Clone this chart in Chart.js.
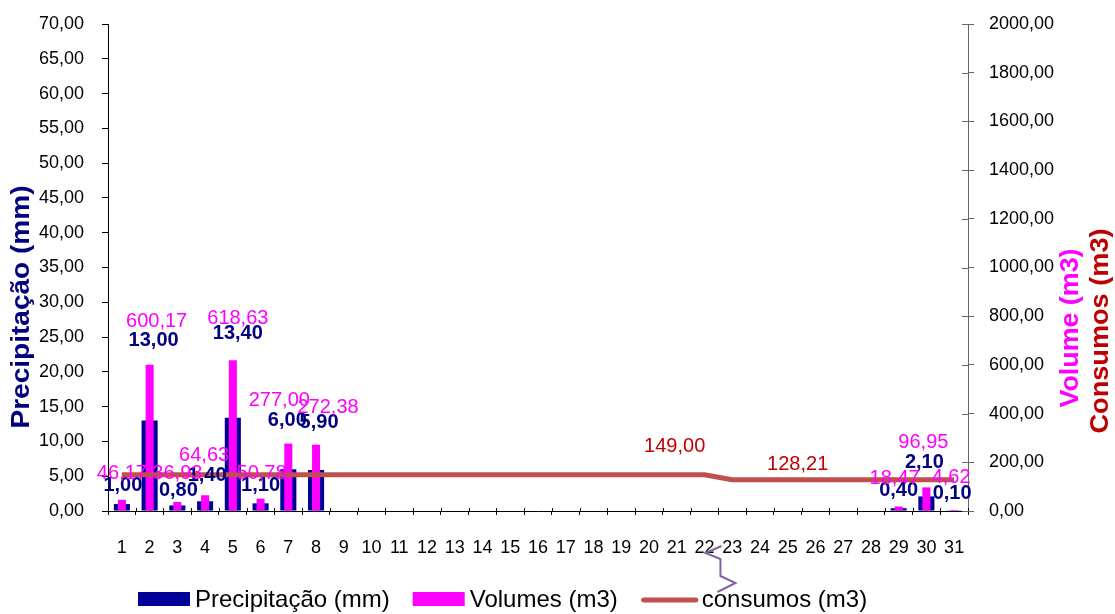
<!DOCTYPE html>
<html>
<head>
<meta charset="utf-8">
<script src="https://cdn.jsdelivr.net/npm/chart.js@4.4.1/dist/chart.umd.min.js"></script>
<style>
  html, body { margin: 0; padding: 0; background: #ffffff; }
  #wrap { width: 1115px; height: 614px; position: relative; }
</style>
</head>
<body>
<div id="wrap"><canvas id="c" width="1115" height="614"></canvas></div>
<script>
// Daily values for the month
const days = ['1','2','3','4','5','6','7','8','9','10','11','12','13','14','15','16',
              '17','18','19','20','21','22','23','24','25','26','27','28','29','30','31'];

// Precipitação (mm)
const precipitacao = [1.00, 13.00, 0.80, 1.40, 13.40, 1.10, 6.00, 5.90,
  null, null, null, null, null, null, null, null, null, null, null, null,
  null, null, null, null, null, null, null, null,
  0.40, 2.10, 0.10];

// Volumes (m3)
const volumes = [46.17, 600.17, 36.93, 64.63, 618.63, 50.78, 277.00, 272.38,
  null, null, null, null, null, null, null, null, null, null, null, null,
  null, null, null, null, null, null, null, null,
  18.47, 96.95, 4.62];

// consumos (m3)
const consumos = [149.00, 149.00, 149.00, 149.00, 149.00, 149.00, 149.00, 149.00,
  149.00, 149.00, 149.00, 149.00, 149.00, 149.00, 149.00, 149.00, 149.00, 149.00,
  149.00, 149.00, 149.00, 149.00,
  128.21, 128.21, 128.21, 128.21, 128.21, 128.21, 128.21, 128.21, 128.21];

// Axis ranges
const precipMax = 70, precipStep = 5;
const volumeMax = 2000, volumeStep = 200;

// Value-label nudges [dx, dy] relative to each bar top / line point
const precipLabelShift = [[1,-19],[4,-80],[1,-15],[2,-26],[5,-84],[0,-18],[-1,-49],[3,-47],
  null,null,null,null,null,null,null,null,null,null,null,null,null,null,null,null,null,null,null,null,
  [0,-18],[-2,-34],[-2,-17]];
const volumeLabelShift = [[0,-26],[7,-43],[0,-29],[-1,-40],[5,-42],[1,-25],[-9,-43],[12,-37],
  null,null,null,null,null,null,null,null,null,null,null,null,null,null,null,null,null,null,null,null,
  [-4,-28],[-3,-45],[-3,-32]];
const consumoLabelShift = [null,null,null,null,null,null,null,null,null,null,null,null,null,null,
  null,null,null,null,null,null,[-2,-28],null,null,null,[10,-15],null,null,null,null,null,null];

const FONT = "'Liberation Sans', Arial, Helvetica, sans-serif";
const fmt = v => Number(v).toFixed(2).replace('.', ',');

// Value labels drawn above the marks
const valueLabels = {
  id: 'valueLabels',
  afterDatasetsDraw(chart) {
    const ctx = chart.ctx;
    const specs = [
      { ds: 0, shift: precipLabelShift, color: '#000080', font: 'bold 20px ' + FONT },
      { ds: 1, shift: volumeLabelShift, color: '#FF00FF', font: '20px ' + FONT },
      { ds: 2, shift: consumoLabelShift, color: '#C00000', font: '20px ' + FONT }
    ];
    ctx.save();
    ctx.textAlign = 'center';
    ctx.textBaseline = 'middle';
    specs.forEach(s => {
      const meta = chart.getDatasetMeta(s.ds);
      const data = chart.data.datasets[s.ds].data;
      ctx.fillStyle = s.color;
      ctx.font = s.font;
      meta.data.forEach((el, i) => {
        const v = data[i];
        const sh = s.shift[i];
        if (v === null || v === undefined || !sh) return;
        ctx.fillText(fmt(v), el.x + sh[0], el.y + sh[1]);
      });
    });
    ctx.restore();
  }
};

// Tick marks that cross the bottom and right axes
const crossTicks = {
  id: 'crossTicks',
  afterDraw(chart) {
    const ctx = chart.ctx;
    const a = chart.chartArea;
    const xs = chart.scales.x;
    const n = chart.data.labels.length;
    const w = (a.right - a.left) / n;
    ctx.save();
    ctx.lineWidth = 1;
    ctx.strokeStyle = '#000';
    ctx.beginPath();
    for (let k = 0; k <= n; k++) {
      const px = Math.round(xs.left + k * w) + 0.5;
      ctx.moveTo(px, a.bottom - 3);
      ctx.lineTo(px, a.bottom);
    }
    ctx.stroke();
    const ys = chart.scales.y1;
    ctx.strokeStyle = '#666';
    ctx.beginPath();
    ys.ticks.forEach(t => {
      const py = Math.round(ys.getPixelForValue(t.value)) + 0.5;
      ctx.moveTo(a.right - 6, py);
      ctx.lineTo(a.right, py);
    });
    ctx.stroke();
    ctx.restore();
  }
};

// Vertical axis titles
function drawVertical(ctx, text, cx, cy, font, color, length) {
  ctx.save();
  ctx.font = font;
  ctx.fillStyle = color;
  ctx.textAlign = 'center';
  ctx.textBaseline = 'middle';
  ctx.translate(cx, cy);
  ctx.rotate(-Math.PI / 2);
  const m = ctx.measureText(text).width;
  ctx.scale(length / m, 1);
  ctx.fillText(text, 0, 0);
  ctx.restore();
}

const axisTitles = {
  id: 'axisTitles',
  afterDraw(chart) {
    const ctx = chart.ctx;
    drawVertical(ctx, 'Precipitação (mm)', 22, 307, 'bold 26px ' + FONT, '#000080', 243);
    drawVertical(ctx, 'Volume (m3)', 1071, 328, 'bold 26px ' + FONT, '#FF00FF', 159);
    drawVertical(ctx, 'Consumos (m3)', 1101, 331, 'bold 26px ' + FONT, '#C00000', 205);
  }
};

// Legend row under the axis
const bottomLegend = {
  id: 'bottomLegend',
  afterDraw(chart) {
    const ctx = chart.ctx;
    const ds = chart.data.datasets;
    const cy = 599;
    let x = 138;
    ctx.save();
    ctx.font = '24px ' + FONT;
    ctx.textBaseline = 'middle';
    ctx.textAlign = 'left';
    ds.forEach(d => {
      if (d.type === 'line') {
        ctx.strokeStyle = d.borderColor;
        ctx.lineWidth = 5;
        ctx.lineCap = 'round';
        ctx.beginPath();
        ctx.moveTo(x + 3, cy + 1);
        ctx.lineTo(x + 55, cy + 1);
        ctx.stroke();
        x += 61;
      } else {
        ctx.fillStyle = d.backgroundColor;
        ctx.fillRect(x, cy - 7, 52, 14);
        x += 57;
      }
      ctx.fillStyle = '#000';
      ctx.fillText(d.label, x, cy + 1);
      x += ctx.measureText(d.label).width + 23;
    });
    ctx.restore();
  }
};

// Small purple connector shape below the axis between days 22 and 23
const connectorMark = {
  id: 'connectorMark',
  afterDraw(chart) {
    const ctx = chart.ctx;
    const xa = chart.scales.x.getPixelForValue(21);
    const yb = chart.chartArea.bottom;
    const path = [[17, 35], [1, 42], [16, 48], [16, 65], [31, 72], [13, 81]];
    ctx.save();
    ctx.strokeStyle = '#8064A2';
    ctx.lineWidth = 2;
    ctx.lineJoin = 'miter';
    ctx.beginPath();
    path.forEach((p, i) => {
      if (i === 0) ctx.moveTo(xa + p[0], yb + p[1]);
      else ctx.lineTo(xa + p[0], yb + p[1]);
    });
    ctx.stroke();
    ctx.restore();
  }
};

new Chart(document.getElementById('c'), {
  data: {
    labels: days,
    datasets: [
      {
        type: 'bar',
        label: 'Precipitação (mm)',
        data: precipitacao,
        yAxisID: 'y',
        backgroundColor: '#000099',
        borderWidth: 0,
        grouped: false,
        barPercentage: 0.58,
        categoryPercentage: 1,
        order: 2
      },
      {
        type: 'bar',
        label: 'Volumes (m3)',
        data: volumes,
        yAxisID: 'y1',
        backgroundColor: '#FF00FF',
        borderWidth: 0,
        grouped: false,
        barPercentage: 0.29,
        categoryPercentage: 1,
        order: 1
      },
      {
        type: 'line',
        label: 'consumos (m3)',
        data: consumos,
        yAxisID: 'y1',
        borderColor: '#C0504D',
        backgroundColor: '#C0504D',
        borderWidth: 5,
        pointRadius: 0,
        pointHoverRadius: 0,
        tension: 0,
        fill: false,
        order: 0
      }
    ]
  },
  options: {
    responsive: false,
    animation: false,
    devicePixelRatio: 1,
    layout: { padding: { top: 24, left: 0, right: 0, bottom: 0 } },
    plugins: {
      legend: { display: false },
      tooltip: { enabled: false },
      title: { display: false }
    },
    scales: {
      x: {
        type: 'category',
        offset: true,
        grid: { offset: true, drawOnChartArea: false, drawTicks: true, tickLength: 4, color: '#000' },
        border: { display: true, color: '#000', width: 1 },
        ticks: { font: { family: FONT, size: 18 }, color: '#000', padding: 22, maxRotation: 0, autoSkip: false },
        afterFit(s) { s.height = 103; }
      },
      y: {
        position: 'left',
        min: 0,
        max: precipMax,
        grid: { drawOnChartArea: false, drawTicks: true, tickLength: 6, color: '#000' },
        border: { display: true, color: '#000', width: 1 },
        ticks: { stepSize: precipStep, autoSkip: false, callback: v => fmt(v), font: { family: FONT, size: 18, lineHeight: 0.3 }, color: '#000', padding: 18 },
        afterFit(s) { s.width = 108; }
      },
      y1: {
        position: 'right',
        min: 0,
        max: volumeMax,
        grid: { drawOnChartArea: false, drawTicks: true, tickLength: 6, color: '#666' },
        border: { display: true, color: '#666', width: 1 },
        ticks: { stepSize: volumeStep, autoSkip: false, callback: v => fmt(v), font: { family: FONT, size: 18, lineHeight: 0.3 }, color: '#000', padding: 15 },
        afterFit(s) { s.width = 147; }
      }
    }
  },
  plugins: [valueLabels, crossTicks, axisTitles, bottomLegend, connectorMark]
});
</script>
</body>
</html>
